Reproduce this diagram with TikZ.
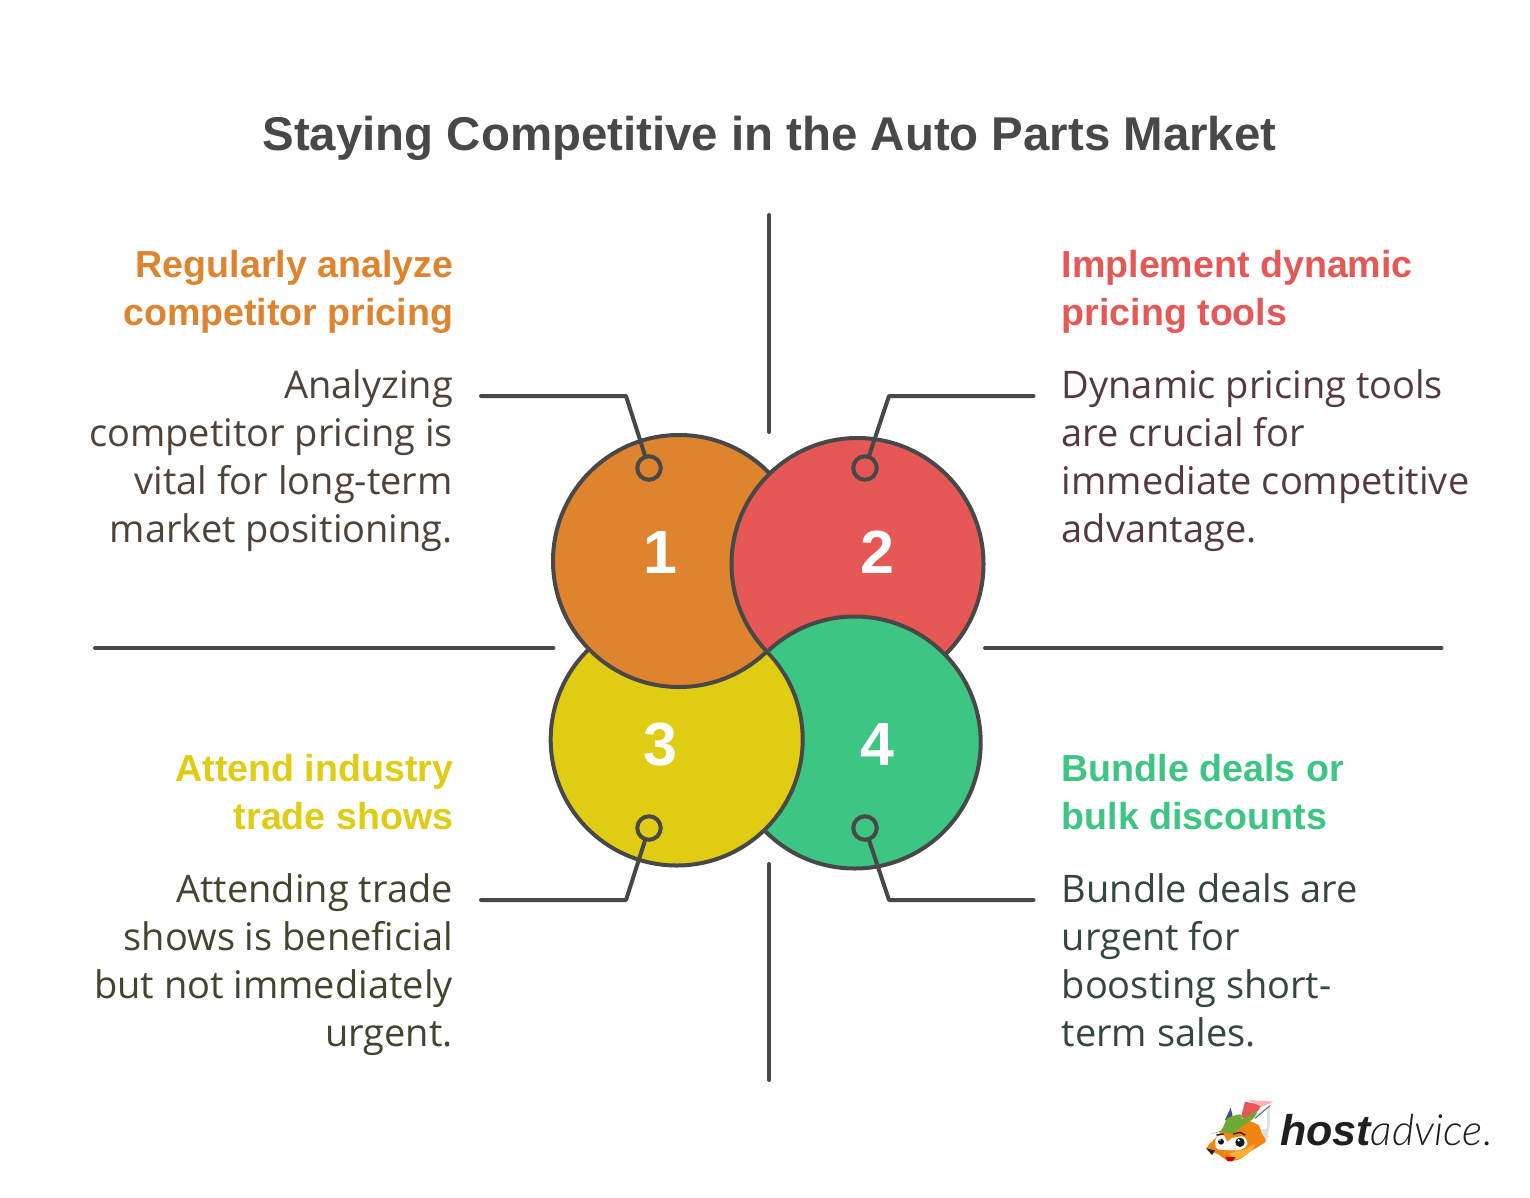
\documentclass[tikz,border=0pt]{standalone}
\usepackage{fontspec}
\setmainfont{Liberation Sans}
\newfontfamily\logolight{Lato Light}
\newfontfamily\bodyfont{Open Sans}
\definecolor{stroke}{HTML}{484848}
\definecolor{cOne}{HTML}{DE832E}
\definecolor{cTwo}{HTML}{E65856}
\definecolor{cThree}{HTML}{E0CC12}
\definecolor{cFour}{HTML}{3CC583}
\definecolor{tOne}{HTML}{4F4238}
\definecolor{tTwo}{HTML}{543A3C}
\definecolor{tThree}{HTML}{44442E}
\definecolor{tFour}{HTML}{34463D}
\definecolor{foxO}{HTML}{F28412}
\definecolor{foxY}{HTML}{F9B233}
\definecolor{foxG}{HTML}{6FA832}
\tikzset{
  rule/.style={draw=stroke,line width=4pt,line cap=round,line join=round},
  big/.style={circle,draw=stroke,line width=4pt,minimum size=252pt,inner sep=0pt,outer sep=0pt},
  dot/.style={circle,draw=stroke,line width=4pt,minimum size=23.5pt,inner sep=0pt},
  num/.style={text=white,font=\fontsize{61}{61}\selectfont\bfseries,inner sep=0pt,anchor=base},
  txtL/.style={anchor=north east,align=right,inner sep=0pt,font=\fontsize{38}{48}\selectfont\bodyfont},
  txtR/.style={anchor=north west,align=left,inner sep=0pt,font=\fontsize{38}{48}\selectfont\bodyfont},
  headL/.style={txtL,font=\fontsize{37.6}{48}\selectfont\bfseries},
  headR/.style={txtR,font=\fontsize{37.6}{48}\selectfont\bfseries},
}
\begin{document}
\begin{tikzpicture}[x=1pt,y=-1pt]
\useasboundingbox[fill=white] (0,0) rectangle (1530,1197);
\node[anchor=base,inner sep=0pt,text=stroke,font=\fontsize{47.4}{58}\selectfont\bfseries] (title) at (769.5,150) {Staying Competitive in the Auto Parts Market};

% dividers
\coordinate (va) at (769,215); \coordinate (vb) at (769,432);
\coordinate (vc) at (769,864); \coordinate (vd) at (769,1080);
\coordinate (ha) at (95,648); \coordinate (hb) at (553.5,648);
\coordinate (hc) at (985,648); \coordinate (hd) at (1441.5,648);
\draw[rule] (va)--(vb); \draw[rule] (vc)--(vd);
\draw[rule] (ha)--(hb); \draw[rule] (hc)--(hd);

% circles, cyclic overlap
\node[big,fill=cFour] (c4) at (854.7,742.5) {};
\node[big,fill=cThree] (c3) at (676.7,739.5) {};
\node[big,fill=cOne] (c1) at (679,561) {};
\node[big,fill=cTwo] (c2) at (857.5,564) {};
\begin{scope}[even odd rule]
  \clip (857.5,564) circle[radius=130];
  \clip (500,400) rectangle (1100,900) (676.7,739.5) circle[radius=127.9];
  \draw[draw=stroke,fill=cFour,line width=4pt] (854.7,742.5) circle[radius=126];
\end{scope}

\node[num] (n1) at (660,573) {1};
\node[num] (n2) at (877,573) {2};
\node[num] (n3) at (660.5,765) {3};
\node[num] (n4) at (877,765) {4};

% connectors
\node[dot] (d1) at (649,468) {};
\node[dot] (d2) at (865,468) {};
\node[dot] (d3) at (649,828) {};
\node[dot] (d4) at (865,828) {};
\coordinate (a1) at (481,396); \coordinate (b1) at (626,396);
\coordinate (a2) at (1033.5,396); \coordinate (b2) at (889,396);
\coordinate (a3) at (481,900); \coordinate (b3) at (626,900);
\coordinate (a4) at (1033.5,900); \coordinate (b4) at (889,900);
\draw[rule] (a1)--(b1)--(d1);
\draw[rule] (a2)--(b2)--(d2);
\draw[rule] (a3)--(b3)--(d3);
\draw[rule] (a4)--(b4)--(d4);

% texts (strut height 33.6 above first baseline)
\node[headL,text=cOne] (h1) at (453.5,243.4) {\strut Regularly analyze\\competitor pricing};
\node[txtL,text=tOne] (t1) at (453,364.3) {\strut Analyzing\\competitor pricing is\\vital for long-term\\market positioning.};
\node[headR,text=cTwo] (h2) at (1061.5,243.4) {\strut Implement dynamic\\pricing tools};
\node[txtR,text=tTwo] (t2) at (1061.5,364.3) {\strut Dynamic pricing tools\\are crucial for\\immediate competitive\\advantage.};
\node[headL,text=cThree] (h3) at (453.5,747.4) {\strut Attend industry\\trade shows};
\node[txtL,text=tThree] (t3) at (453,868.3) {\strut Attending trade\\shows is beneficial\\but not immediately\\urgent.};
\node[headR,text=cFour] (h4) at (1061.5,747.4) {\strut Bundle deals or\\bulk discounts};
\node[txtR,text=tFour] (t4) at (1061.5,868.3) {\strut Bundle deals are\\urgent for\\boosting short-\\term sales.};

% logo fox (drawn in zoomed logo units)
\begin{scope}[shift={(1190,1085)},x=0.3333pt,y=-0.3333pt]
  \fill[black!12] (165,110)--(240,60)--(240,110)--(232,165)--(190,130)--cycle;
  \fill[white] (180,110)--(232,72)--(230,130)--(205,135)--cycle;
  \draw[blue!30!black!60,line width=1pt] (195,100)--(240,62);
  \fill[blue!30!black!70] (105,105)--(122,68)--(132,112)--cycle;
  \fill[foxO] plot[smooth cycle,tension=.45] coordinates {(50,190) (85,150) (112,112) (165,105) (205,120) (215,145) (228,168) (205,185) (180,200) (150,222) (115,228) (85,208)};
  \fill[foxY] plot[smooth cycle,tension=.6] coordinates {(120,205) (160,195) (195,178) (175,205) (140,222)};
  \fill[white] plot[smooth cycle,tension=.6] coordinates {(78,160) (100,150) (112,170) (125,160) (160,155) (172,178) (150,195) (110,195) (80,190)};
  \fill[cTwo] (153,95)--(165,50)--(215,60)--(192,95)--(172,110)--cycle;
  \fill[red!30!white] (175,45)--(252,50)--(215,66)--cycle;
  \fill[foxG] plot[smooth cycle,tension=.35] coordinates {(60,148) (95,135) (112,100) (150,88) (158,102) (200,78) (190,100) (150,128) (128,146) (95,140)};
  \fill[black!90] (93,170) circle[radius=9];
  \fill[black!90] (150,172) circle[radius=14];
  \fill[white] (146,166) circle[radius=4]; \fill[white] (90,165) circle[radius=2.5];
  \draw[black!85,line width=1.4pt,line cap=round] (80,150)--(100,147) (130,147)--(150,142)--(165,150);
  \fill[black!85] (48,190)--(75,196)--(66,210)--cycle;
  \fill[red!75!black] (107,215)--(137,217)--(126,229)--(112,228)--cycle;
\end{scope}
\node[anchor=base west,inner sep=0pt,text=black!88,font=\fontsize{43}{43}\selectfont] (logo) at (1280,1145) {{\bfseries\itshape host}{\logolight\fontseries{m}\itshape advice.}};
\end{tikzpicture}
\end{document}
